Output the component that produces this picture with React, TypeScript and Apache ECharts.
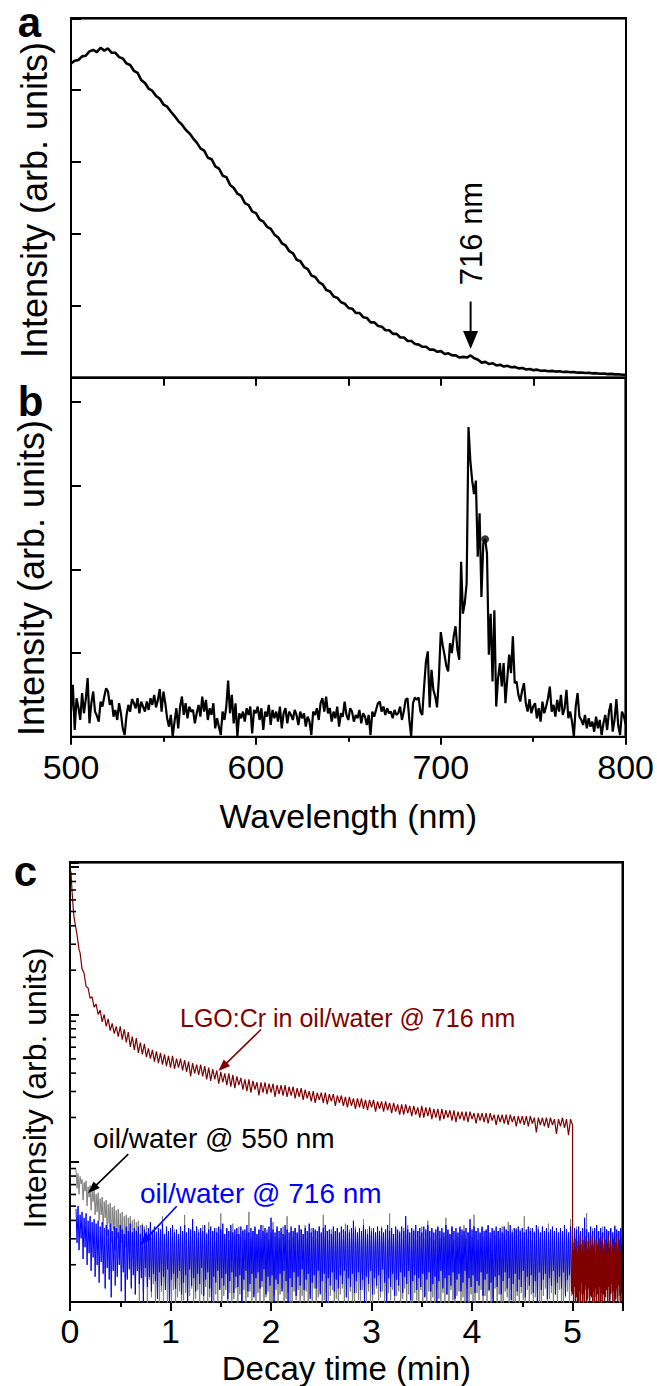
import React, { useEffect, useRef } from 'react';
import * as echarts from 'echarts';

const FONT = '"Liberation Sans", Arial, Helvetica, sans-serif';

// ---------- Panel a: emission spectrum (arb. units), 500..800 nm step 2 ----------
const WL_A_START = 500;
const WL_A_STEP = 2;
const emissionA = [
  4.37, 4.41, 4.42, 4.47, 4.48, 4.54, 4.56, 4.53, 4.59, 4.55,
  4.58, 4.52, 4.52, 4.46, 4.44, 4.37, 4.35, 4.27, 4.24, 4.14,
  4.10, 4.02, 3.99, 3.92, 3.88, 3.80, 3.77, 3.70, 3.64, 3.57,
  3.52, 3.45, 3.40, 3.33, 3.27, 3.19, 3.16, 3.06, 3.04, 2.94,
  2.91, 2.81, 2.79, 2.68, 2.64, 2.56, 2.53, 2.43, 2.40, 2.31,
  2.29, 2.20, 2.17, 2.10, 2.07, 1.99, 1.95, 1.87, 1.84, 1.76,
  1.73, 1.64, 1.62, 1.54, 1.51, 1.42, 1.40, 1.33, 1.30, 1.22,
  1.20, 1.13, 1.11, 1.05, 1.03, 0.97, 0.96, 0.90, 0.90, 0.84,
  0.83, 0.77, 0.77, 0.72, 0.71, 0.66, 0.66, 0.61, 0.61, 0.56,
  0.56, 0.51, 0.51, 0.47, 0.46, 0.43, 0.43, 0.39, 0.39, 0.36,
  0.37, 0.33, 0.34, 0.31, 0.31, 0.28, 0.29, 0.28, 0.31, 0.27,
  0.25, 0.21, 0.22, 0.19, 0.20, 0.17, 0.18, 0.155, 0.165, 0.145,
  0.15, 0.13, 0.135, 0.115, 0.122, 0.105, 0.112, 0.095, 0.10, 0.09,
  0.095, 0.085, 0.09, 0.08, 0.084, 0.075, 0.078, 0.07, 0.073, 0.065,
  0.068, 0.06, 0.063, 0.055, 0.058, 0.05, 0.053, 0.046, 0.048, 0.04,
  0.042,
];
const ARROW_A = { from: [716, 1.06], to: [716, 0.40] };

// ---------- Panel b: spectrum, 500..800 nm step 1 ----------
const WL_B_START = 500;
const WL_B_STEP = 1;
const emissionB = [
  0.30, 0.62, 0.08, 0.46, 0.35, 0.20, 0.52, 0.28, 0.45, 0.70,
  0.16, 0.40, 0.54, 0.30, 0.25, 0.18, 0.42, 0.36, 0.48, 0.58,
  0.54, 0.38, 0.44, 0.24, 0.32, 0.20, 0.40, 0.28, 0.10, 0.02,
  0.25, 0.38, 0.30, 0.45, 0.40, 0.34, 0.46, 0.28, 0.42, 0.36,
  0.30, 0.42, 0.32, 0.46, 0.38, 0.50, 0.35, 0.44, 0.57, 0.30,
  0.54, 0.40, 0.22, 0.12, 0.26, 0.00, 0.18, 0.34, 0.10, 0.36,
  0.48, 0.26, 0.40, 0.22, 0.36, 0.30, 0.32, 0.16, 0.28, 0.38,
  0.24, 0.48, 0.30, 0.44, 0.20, 0.34, 0.26, 0.40, 0.10, 0.22,
  0.12, 0.02, 0.30, 0.20, 0.36, 0.67, 0.28, 0.50, 0.16, 0.40,
  0.00, 0.28, 0.22, 0.30, 0.18, 0.34, 0.26, 0.36, 0.04, 0.32,
  0.28, 0.36, 0.20, 0.34, 0.08, 0.30, 0.24, 0.38, 0.14, 0.32,
  0.22, 0.30, 0.18, 0.36, 0.10, 0.28, 0.34, 0.16, 0.30, 0.26,
  0.20, 0.32, 0.26, 0.14, 0.30, 0.22, 0.28, 0.12, 0.24, 0.18,
  0.02, 0.30, 0.26, 0.34, 0.20, 0.40, 0.46, 0.30, 0.48, 0.28,
  0.34, 0.18, 0.30, 0.22, 0.36, 0.12, 0.28, 0.24, 0.42, 0.26,
  0.20, 0.34, 0.30, 0.18, 0.26, 0.22, 0.32, 0.16, 0.28, 0.24,
  0.14, 0.26, 0.02, 0.30, 0.24, 0.32, 0.40, 0.42, 0.30, 0.36,
  0.26, 0.34, 0.28, 0.30, 0.22, 0.32, 0.26, 0.28, 0.36, 0.20,
  0.30, 0.44, 0.46, 0.20, 0.00, 0.40, 0.47, 0.44, 0.47, 0.30,
  0.26, 0.60, 0.90, 1.02, 0.35, 0.80, 0.56, 0.48, 0.35, 0.70,
  1.25, 1.10, 0.98, 0.85, 0.78, 1.12, 1.00, 1.20, 1.32, 1.04,
  0.92, 2.09, 1.47, 1.60, 1.83, 3.70, 3.30, 3.06, 2.90, 3.06,
  2.15, 2.67, 1.67, 2.31, 2.36, 2.19, 0.98, 1.47, 0.66, 1.51,
  0.36, 0.70, 0.88, 0.60, 0.88, 0.40, 0.70, 0.98, 0.76, 1.20,
  0.64, 0.66, 0.50, 0.42, 0.55, 0.64, 0.40, 0.30, 0.45, 0.28,
  0.36, 0.40, 0.22, 0.34, 0.18, 0.42, 0.28, 0.36, 0.46, 0.60,
  0.30, 0.38, 0.24, 0.44, 0.30, 0.50, 0.26, 0.34, 0.56, 0.22,
  0.30, 0.18, 0.00, 0.36, 0.52, 0.24, 0.20, 0.14, 0.26, 0.10,
  0.22, 0.12, 0.18, 0.06, 0.24, 0.10, 0.20, 0.02, 0.16, 0.26,
  0.08, 0.30, 0.40, 0.06, 0.20, 0.45, 0.13, 0.02, 0.30, 0.25,
  0.15,
];
const emissionBDot = [[724, 2.36]];
const wavelengthLabels = [500, 600, 700, 800];

// ---------- Panel c: decay curves, log10(intensity) x 100 ----------
const redEarlyLogX100 = [
  [0.01, 197], [0.015, 190], [0.02, 184], [0.03, 174], [0.04, 166],
  [0.05, 162], [0.06, 158], [0.07, 154], [0.08, 149], [0.09, 144],
];
const RED_T0 = 0.1;
const RED_DT = 0.02;
const redLogX100 = [
  142, 131, 128, 119, 118, 111, 112, 105, 107, 100,
  103, 95, 100, 92, 97, 89, 94, 87, 92, 85,
  92, 83, 90, 81, 88, 78, 85, 76, 84, 74,
  81, 73, 80, 71, 77, 70, 76, 68, 75, 67,
  74, 66, 73, 65, 72, 64, 72, 63, 70, 64,
  70, 62, 69, 61, 68, 58, 67, 60, 66, 59,
  66, 58, 65, 56, 64, 55, 63, 56, 62, 53,
  61, 54, 60, 52, 60, 51, 59, 50, 58, 52,
  57, 49, 56, 48, 56, 47, 55, 49, 54, 45,
  54, 47, 54, 46, 53, 47, 53, 44, 52, 46,
  52, 45, 52, 44, 51, 45, 51, 43, 50, 44,
  50, 42, 49, 43, 48, 41, 48, 40, 47, 42,
  47, 40, 47, 39, 46, 41, 46, 38, 45, 40,
  45, 38, 44, 37, 44, 38, 43, 36, 43, 37,
  43, 36, 42, 35, 42, 37, 42, 34, 41, 36,
  41, 34, 41, 35, 40, 33, 40, 34, 39, 32,
  39, 32, 39, 33, 38, 31, 38, 32, 37, 30,
  38, 30, 37, 31, 37, 29, 36, 30, 36, 28,
  36, 29, 35, 30, 35, 28, 35, 27, 34, 29,
  34, 28, 34, 27, 34, 29, 33, 26, 33, 28,
  33, 27, 33, 26, 33, 28, 32, 25, 32, 27,
  32, 26, 32, 25, 32, 27, 31, 24, 31, 26,
  31, 25, 31, 24, 31, 26, 30, 20, 30, 25,
  30, 24, 30, 23, 30, 25, 29, 19, 29, 24,
  30, 23, 29, 18, 29, 25,
];
const RED_TAIL_T0 = 5.0;
const RED_TAIL_DT = 0.005;
const redTailLogX100 = [
  -90, -55, -98, -60, -85, -52, -100, -58, -92, -62,
  -80, -54, -100, -57, -88, -50, -95, -63, -82, -56,
  -100, -53, -90, -60, -97, -55, -84, -51, -100, -59,
  -93, -54, -86, -61, -100, -52, -91, -57, -83, -50,
  -99, -58, -88, -55, -96, -62, -85, -53, -100, -56,
  -90, -57, -97, -52, -84, -60, -100, -54, -89, -51,
  -95, -59, -82, -56, -100, -53, -92, -61, -87, -55,
  -98, -50, -85, -58, -100, -54, -90, -62, -83, -57,
  -96, -52, -88, -60, -100, -55, -93, -51, -86, -59,
  -99, -56, -84, -53, -91, -61, -100, -57, -89, -54,
  -95,
];
const OW_T0 = 0.06;
const OW_DT = 0.01;
const gray550LogX100 = [
  -5, -18, -8, -22, -10, -15, -12, -26, -14, -20, -13, -30, -17, -24, -16, -33, -20, -27, -19, -36,
  -22, -34, -21, -40, -25, -36, -24, -45, -27, -38, -26, -50, -29, -42, -28, -55, -31, -46, -30, -60,
  -33, -52, -32, -66, -35, -55, -34, -72, -37, -58, -36, -78, -38, -62, -37, -84, -40, -66, -39, -90,
  -41, -70, -40, -95, -43, -74, -42, -88, -44, -78, -43, -100, -45, -80, -44, -92, -46, -83, -45, -97,
  -47, -85, -46, -100, -48, -88, -37, -95, -49, -86, -47, -100, -50, -90, -48, -97, -51, -87, -46, -100,
  -49, -92, -52, -88, -45, -100, -50, -94, -36, -89, -53, -100, -47, -91, -51, -86, -44, -98, -49, -93,
  -52, -87, -46, -100, -50, -90, -43, -96, -53, -85, -48, -100, -41, -92, -51, -88, -47, -99, -54, -90,
  -45, -95, -50, -86, -35, -100, -49, -91, -52, -87, -46, -97, -53, -89, -47, -100, -42, -93, -50, -86,
  -49, -100, -44, -90, -51, -95, -46, -87, -53, -100, -48, -92, -34, -88, -52, -96, -47, -90, -45, -100,
  -50, -89, -47, -97, -52, -85, -43, -100, -49, -92, -46, -88, -53, -95, -48, -100, -41, -91, -51, -87,
  -46, -99, -52, -90, -48, -86, -44, -100, -50, -93, -37, -89, -53, -96, -47, -100, -51, -88, -45, -94,
  -49, -87, -53, -100, -46, -91, -50, -95, -43, -88, -52, -100, -48, -90, -45, -97, -51, -86, -47, -100,
  -52, -92, -44, -88, -49, -100, -36, -94, -51, -89, -47, -99, -53, -91, -46, -87, -50, -100, -48, -93,
  -45, -100, -51, -90, -47, -86, -53, -97, -42, -92, -49, -100, -46, -88, -52, -95, -48, -100, -44, -89,
  -50, -94, -47, -100, -53, -87, -39, -91, -51, -99, -46, -88, -49, -96, -45, -100, -52, -90, -48, -86,
  -46, -100, -51, -92, -44, -88, -50, -97, -47, -100, -53, -89, -35, -94, -49, -87, -52, -100, -46, -91,
  -50, -88, -47, -100, -52, -93, -45, -86, -49, -99, -43, -90, -51, -96, -48, -100, -46, -89, -53, -94,
  -47, -100, -50, -87, -44, -95, -52, -91, -48, -100, -40, -88, -51, -97, -46, -92, -53, -100, -49, -86,
  -45, -93, -52, -100, -48, -89, -51, -96, -38, -90, -47, -100, -50, -87, -44, -94, -53, -100, -49, -91,
  -51, -88, -46, -100, -50, -92, -43, -97, -52, -86, -48, -100, -45, -90, -51, -95, -36, -100, -47, -89,
  -53, -94, -49, -87, -45, -100, -51, -91, -47, -98, -44, -88, -52, -100, -48, -93, -46, -86, -50, -100,
  -47, -90, -52, -96, -44, -100, -49, -88, -53, -92, -41, -100, -50, -87, -46, -95, -51, -100, -45, -91,
  -50, -100, -46, -89, -52, -94, -37, -100, -48, -87, -51, -97, -45, -90, -53, -100, -47, -92, -49, -88,
  -44, -96, -51, -100, -47, -91, -53, -86, -48, -100, -42, -93, -50, -89, -46, -99, -52, -90, -48, -100,
  -51, -87, -45, -95, -49, -100, -53, -92, -46, -88, -50, -100, -39, -91, -52, -96, -47, -100, -44, -89,
  -49, -100, -52, -90, -46, -97, -50, -87, -35, -100, -48, -93, -53, -89, -45, -100, -51, -92, -47, -88,
  -52, -95, -48, -100, -44, -90, -51, -86, -47, -100, -53, -93, -46, -89, -50, -100, -43, -94, -49, -91,
  -47, -100, -51, -88, -46,
];
const blue716LogX100 = [
  -32, -55, -30, -60, -36, -52, -34, -66, -38, -58, -35, -70, -40, -62, -37, -74, -41, -65, -39, -78,
  -42, -70, -40, -82, -44, -68, -41, -76, -45, -86, -43, -72, -46, -80, -42, -92, -47, -74, -44, -84,
  -45, -78, -48, -70, -43, -88, -46, -75, -49, -95, -44, -80, -47, -73, -42, -86, -48, -77, -45, -90,
  -47, -74, -44, -83, -49, -79, -43, -97, -46, -72, -48, -85, -45, -78, -41, -88, -47, -76, -44, -81,
  -48, -93, -45, -75, -46, -84, -42, -78, -49, -87, -44, -73, -47, -100, -45, -80, -43, -76, -48, -86,
  -46, -79, -49, -74, -44, -90, -47, -82, -43, -77, -48, -95, -45, -73, -46, -84, -39, -79, -47, -88,
  -44, -76, -48, -83, -45, -72, -47, -91, -43, -80, -49, -75, -46, -86, -44, -98, -47, -78, -45, -82,
  -48, -74, -44, -87, -46, -79, -42, -84, -49, -76, -45, -93, -47, -81, -43, -75, -48, -89, -46, -78,
  -45, -85, -49, -77, -44, -100, -47, -80, -46, -74, -43, -88, -48, -83, -45, -76, -47, -92, -44, -79,
  -49, -75, -46, -86, -43, -81, -47, -73, -45, -90, -48, -78, -44, -84, -38, -77, -46, -95, -48, -80,
  -44, -83, -47, -76, -45, -88, -49, -74, -43, -81, -46, -99, -48, -79, -44, -85, -47, -75, -45, -91,
  -48, -78, -43, -84, -46, -73, -49, -87, -45, -80, -47, -76, -42, -93, -48, -82, -45, -77, -46, -86,
  -47, -74, -44, -90, -48, -81, -45, -76, -43, -97, -47, -79, -46, -84, -49, -75, -44, -88, -47, -80,
  -45, -86, -48, -77, -44, -83, -46, -74, -47, -92, -43, -79, -48, -85, -45, -76, -40, -89, -46, -81,
  -48, -75, -45, -87, -47, -80, -43, -95, -46, -78, -49, -83, -44, -74, -47, -90, -45, -79, -48, -84,
  -44, -77, -47, -88, -45, -73, -48, -82, -46, -100, -43, -79, -47, -85, -45, -76, -49, -91, -44, -80,
  -46, -84, -48, -75, -44, -89, -47, -78, -37, -83, -46, -74, -48, -94, -45, -81, -47, -77, -43, -87,
  -47, -79, -45, -85, -48, -76, -44, -92, -46, -80, -43, -75, -47, -88, -45, -83, -48, -78, -46, -97,
  -44, -81, -47, -74, -45, -86, -48, -79, -43, -90, -46, -77, -49, -84, -44, -75, -47, -93, -45, -80,
  -48, -76, -44, -88, -46, -82, -47, -74, -45, -96, -48, -79, -39, -85, -46, -77, -44, -89, -47, -81,
  -45, -84, -48, -75, -44, -91, -47, -80, -46, -76, -43, -87, -48, -82, -45, -99, -47, -78, -44, -85,
  -47, -77, -45, -90, -48, -81, -44, -75, -46, -86, -47, -79, -43, -94, -48, -83, -45, -76, -46, -88,
  -44, -80, -47, -85, -45, -74, -48, -92, -46, -78, -44, -84, -47, -77, -45, -89, -48, -81, -43, -96,
  -46, -75, -48, -87, -44, -80, -47, -76, -45, -93, -48, -79, -46, -84, -44, -74, -47, -90, -45, -82,
  -48, -78, -45, -86, -47, -75, -43, -91, -46, -80, -48, -77, -44, -88, -47, -83, -45, -76, -46, -95,
  -44, -81, -47, -76, -45, -89, -38, -79, -46, -84, -48, -75, -44, -92, -47, -80, -45, -86, -43, -78,
  -47, -85, -45, -77, -48, -90, -44, -81, -46, -76, -47, -94, -45, -79, -48, -83, -44, -88, -46, -75,
  -47, -84, -45, -79, -46,
];
const decayLabels = [0, 1, 2, 3, 4, 5];
const logMinorTicksC = [0.2, 0.3, 0.4, 0.5, 0.6, 0.7, 0.8, 0.9, 2, 3, 4, 5, 6, 7, 8, 9, 20, 30, 40, 50, 60, 70, 80, 90];
const ARROW_RED = { from: [1.90, 7.91], to: [1.476, 4.13] };
const ARROW_GRAY = { from: [0.58, 1.127], to: [0.18, 0.614] };
const ARROW_BLUE = { from: [1.062, 0.499], to: [0.70, 0.273] };

// axis extents
const EXTENT_A = { x: [500, 800], y: [0, 5] };
const EXTENT_B = { x: [500, 800], y: [0, 4.29] };
const EXTENT_C = { x: [0, 5.5], y: [0.1117, 108] };

// plot boxes (layout, px)
const BOX_A = { left: 71, top: 18.3, width: 555, height: 359.4 };
const BOX_B = { left: 71, top: 377.7, width: 555, height: 359 };
const BOX_C = { left: 70, top: 862.3, width: 552.8, height: 441 };

const RED = '#800000';
const BLUE = '#0000ff';
const GRAY = '#808080';

export default function App() {
  const ref = useRef<HTMLDivElement>(null);

  useEffect(() => {
    if (!ref.current) return;
    const chart = echarts.init(ref.current, undefined, { renderer: 'svg' });

    const fromLog = (l: number) => Math.pow(10, l / 100);
    const dataA = emissionA.map((v, i) => [WL_A_START + i * WL_A_STEP, v]);
    const dataB = emissionB.map((v, i) => [WL_B_START + i * WL_B_STEP, v]);
    const dataRed = [
      ...redEarlyLogX100.map(([t, l]) => [t, fromLog(l)]),
      ...redLogX100.map((l, i) => [RED_T0 + i * RED_DT, fromLog(l)]),
      ...redTailLogX100.map((l, i) => [RED_TAIL_T0 + i * RED_TAIL_DT, fromLog(l)]),
    ];
    const dataGray = gray550LogX100.map((l, i) => [OW_T0 + i * OW_DT, fromLog(l)]);
    const dataBlue = blue716LogX100.map((l, i) => [OW_T0 + i * OW_DT, fromLog(l)]);

    const black = '#000';
    const lineStyle = { color: black, width: 2 };
    const axisLine = { onZero: false, lineStyle };
    const tickStyle = { color: black, width: 2 };
    const labelStyle = { fontSize: 34, color: black, fontFamily: FONT };
    const nameStyle = (size: number) => ({ fontSize: size, color: black, fontFamily: FONT });
    const vText = (text: string, x: number, y: number, size: number) => ({
      type: 'text', x, y, rotation: Math.PI / 2, silent: true,
      style: { text, font: `${size}px ${FONT}`, fill: black, align: 'center', verticalAlign: 'middle' },
    });
    // top and right frame edges as thin filled bars
    const frameBars = (b: any) => [
      { type: 'rect', silent: true, z: 60, shape: { x: b.left - 1, y: b.top - 1, width: b.width + 2, height: 2 }, style: { fill: black } },
      { type: 'rect', silent: true, z: 60, shape: { x: b.left + b.width - 1, y: b.top - 1, width: 2, height: b.height + 2 }, style: { fill: black } },
    ];
    // frame drawn through the axes' own coordinate mapping
    const frame = (xAxisIndex: number, yAxisIndex: number, ext: any) => ({
      type: 'custom', xAxisIndex, yAxisIndex, silent: true, z: 10, clip: false,
      data: [[ext.x[0], ext.y[0], ext.x[1], ext.y[1]]],
      renderItem: (_p: any, api: any) => {
        const p0 = api.coord([api.value(0), api.value(3)]);
        const p1 = api.coord([api.value(2), api.value(3)]);
        const p2 = api.coord([api.value(2), api.value(1)]);
        return {
          type: 'group',
          children: [
            { type: 'rect', shape: { x: p0[0] - 1, y: p0[1] - 1, width: p1[0] - p0[0] + 2, height: 2 }, style: { fill: black } },
            { type: 'rect', shape: { x: p1[0] - 1, y: p1[1] - 1, width: 2, height: p2[1] - p1[1] + 2 }, style: { fill: black } },
          ],
        };
      },
    });
    // arrows drawn in data coordinates (tip at "to")
    const arrow = (xAxisIndex: number, yAxisIndex: number, a: any, color: string, width: number, headL: number, headW: number) => ({
      type: 'custom', xAxisIndex, yAxisIndex, silent: true, z: 8, clip: false,
      data: [[a.from[0], a.from[1], a.to[0], a.to[1]]],
      renderItem: (_p: any, api: any) => {
        const s = api.coord([api.value(0), api.value(1)]);
        const t = api.coord([api.value(2), api.value(3)]);
        const dx = t[0] - s[0];
        const dy = t[1] - s[1];
        const len = Math.sqrt(dx * dx + dy * dy) || 1;
        const ux = dx / len;
        const uy = dy / len;
        const bx = t[0] - ux * headL;
        const by = t[1] - uy * headL;
        const nx = -uy * headW / 2;
        const ny = ux * headW / 2;
        return {
          type: 'group',
          children: [
            { type: 'line', shape: { x1: s[0], y1: s[1], x2: bx + ux, y2: by + uy }, style: { stroke: color, lineWidth: width } },
            { type: 'polygon', shape: { points: [[t[0], t[1]], [bx + nx, by + ny], [bx - nx, by - ny]] }, style: { fill: color } },
          ],
        };
      },
    });

    const option: any = {
      animation: false,
      grid: [
        { ...BOX_A, show: true, borderColor: black, borderWidth: 2, backgroundColor: 'rgba(0,0,0,0)' },
        { ...BOX_B, show: true, borderColor: black, borderWidth: 2, backgroundColor: 'rgba(0,0,0,0)' },
        { ...BOX_C, show: true, borderColor: black, borderWidth: 2, backgroundColor: 'rgba(0,0,0,0)' },
      ],
      xAxis: [
        {
          gridIndex: 0, type: 'value', position: 'bottom', min: EXTENT_A.x[0], max: EXTENT_A.x[1], interval: 50,
          axisLine, axisTick: { length: 8, lineStyle: tickStyle }, axisLabel: { show: false }, splitLine: { show: false },
        },
        {
          gridIndex: 1, type: 'value', position: 'bottom', min: EXTENT_B.x[0], max: EXTENT_B.x[1], interval: 50,
          axisLine, axisTick: { length: 5, lineStyle: tickStyle },
          axisLabel: { ...labelStyle, margin: 13, formatter: (v: number) => (wavelengthLabels.includes(v) ? String(v) : '') },
          splitLine: { show: false },
          name: 'Wavelength (nm)', nameLocation: 'middle', nameGap: 62, nameTextStyle: nameStyle(34),
        },
        {
          gridIndex: 1, type: 'value', position: 'bottom', min: EXTENT_B.x[0], max: EXTENT_B.x[1], interval: 100,
          axisLine: { show: false, onZero: false }, axisTick: { length: 8, lineStyle: tickStyle },
          axisLabel: { show: false }, splitLine: { show: false },
        },
        {
          gridIndex: 2, type: 'value', position: 'bottom', min: EXTENT_C.x[0], max: EXTENT_C.x[1], interval: 0.5,
          axisLine, axisTick: { length: 5, lineStyle: tickStyle },
          axisLabel: { ...labelStyle, margin: 12, formatter: (v: number) => (decayLabels.includes(v) ? String(v) : '') },
          splitLine: { show: false },
          name: 'Decay time (min)', nameLocation: 'middle', nameGap: 50, nameTextStyle: nameStyle(33),
        },
        {
          gridIndex: 2, type: 'value', position: 'bottom', min: EXTENT_C.x[0], max: EXTENT_C.x[1], interval: 1,
          axisLine: { show: false, onZero: false }, axisTick: { length: 9, lineStyle: tickStyle },
          axisLabel: { show: false }, splitLine: { show: false },
        },
      ],
      yAxis: [
        {
          gridIndex: 0, type: 'value', position: 'left', min: EXTENT_A.y[0], max: EXTENT_A.y[1], interval: 1,
          axisLine, axisTick: { inside: true, length: 10, lineStyle: tickStyle }, axisLabel: { show: false }, splitLine: { show: false },
        },
        {
          gridIndex: 1, type: 'value', position: 'left', min: EXTENT_B.y[0], max: EXTENT_B.y[1], interval: 1,
          axisLine, axisTick: { inside: true, length: 10, lineStyle: tickStyle }, axisLabel: { show: false }, splitLine: { show: false },
        },
        {
          gridIndex: 2, type: 'log', logBase: 10, position: 'left', min: EXTENT_C.y[0], max: EXTENT_C.y[1],
          axisLine, axisTick: { inside: true, length: 9, lineStyle: tickStyle }, axisLabel: { show: false }, splitLine: { show: false },
        },
      ],
      series: [
        {
          type: 'line', xAxisIndex: 0, yAxisIndex: 0, data: dataA, showSymbol: false, symbol: 'none',
          lineStyle: { color: black, width: 2.6 }, z: 3,
        },
        {
          type: 'line', xAxisIndex: 1, yAxisIndex: 1, data: dataB, showSymbol: false, symbol: 'none',
          lineStyle: { color: black, width: 2.2 }, z: 3,
        },
        {
          type: 'scatter', xAxisIndex: 1, yAxisIndex: 1, data: emissionBDot, symbolSize: 8,
          itemStyle: { color: black }, z: 4,
        },
        {
          type: 'line', xAxisIndex: 3, yAxisIndex: 2, data: dataGray, showSymbol: false, symbol: 'none',
          lineStyle: { color: GRAY, width: 1 }, z: 2,
        },
        {
          type: 'line', xAxisIndex: 3, yAxisIndex: 2, data: dataBlue, showSymbol: false, symbol: 'none',
          lineStyle: { color: BLUE, width: 1 }, z: 3,
        },
        {
          type: 'line', xAxisIndex: 3, yAxisIndex: 2, data: dataRed, showSymbol: false, symbol: 'none',
          lineStyle: { color: RED, width: 1.2 }, z: 4,
        },
        {
          type: 'custom', xAxisIndex: 3, yAxisIndex: 2, silent: true, z: 6,
          data: logMinorTicksC.map((v) => [0, v]),
          renderItem: (_params: any, api: any) => {
            const p = api.coord([api.value(0), api.value(1)]);
            return {
              type: 'line',
              shape: { x1: p[0], y1: p[1], x2: p[0] + 6, y2: p[1] },
              style: { stroke: black, lineWidth: 1.6 },
            };
          },
        },
        arrow(0, 0, ARROW_A, black, 2, 18, 15),
        arrow(3, 2, ARROW_GRAY, black, 1.6, 12, 9),
        arrow(3, 2, ARROW_BLUE, BLUE, 1.6, 12, 9),
        arrow(3, 2, ARROW_RED, RED, 1.6, 12, 9),
        frame(0, 0, EXTENT_A),
        frame(1, 1, EXTENT_B),
        frame(3, 2, EXTENT_C),
      ],
      graphic: [
        ...frameBars(BOX_A),
        ...frameBars(BOX_B),
        ...frameBars(BOX_C),
        vText('Intensity (arb. units)', 34, 200, 36),
        vText('Intensity (arb. units)', 31, 578, 36),
        vText('Intensity (arb. units)', 35, 1088, 32),
        { type: 'text', x: 29.5, y: 22, style: { text: 'a', font: `bold 42px ${FONT}`, fill: black, align: 'center', verticalAlign: 'middle' } },
        { type: 'text', x: 30.5, y: 401, style: { text: 'b', font: `bold 42px ${FONT}`, fill: black, align: 'center', verticalAlign: 'middle' } },
        { type: 'text', x: 25.5, y: 871, style: { text: 'c', font: `bold 42px ${FONT}`, fill: black, align: 'center', verticalAlign: 'middle' } },
        { type: 'text', x: 471, y: 233.5, rotation: Math.PI / 2, style: { text: '716 nm', font: `31px ${FONT}`, fill: black, align: 'center', verticalAlign: 'middle' } },
        { type: 'text', x: 180, y: 1018, style: { text: 'LGO:Cr in oil/water @ 716 nm', font: `25px ${FONT}`, fill: RED, align: 'left', verticalAlign: 'middle' } },
        { type: 'text', x: 93, y: 1138, style: { text: 'oil/water @ 550 nm', font: `28px ${FONT}`, fill: black, align: 'left', verticalAlign: 'middle' } },
        { type: 'text', x: 140, y: 1193, style: { text: 'oil/water @ 716 nm', font: `28px ${FONT}`, fill: BLUE, align: 'left', verticalAlign: 'middle' } },
      ],
    };

    chart.setOption(option);
    return () => chart.dispose();
  }, []);

  return <div ref={ref} style={{ position: 'absolute', left: 0, top: 0, width: 657, height: 1386, background: '#fff' }} />;
}
